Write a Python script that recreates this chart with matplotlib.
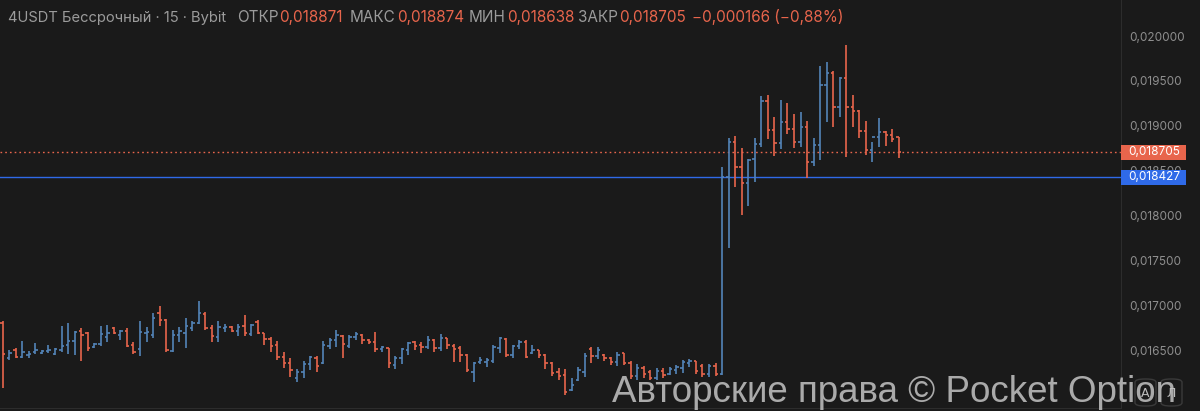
import matplotlib
matplotlib.use("Agg")
import matplotlib.pyplot as plt
import numpy as np
from matplotlib.patches import Rectangle, FancyBboxPatch
from matplotlib.transforms import blended_transform_factory
from matplotlib.ticker import FixedLocator, FuncFormatter

# ---------------- data (prices in millionths) ----------------
opens = [
    16804, 16414, 16503, 16425, 16448, 16481, 16470, 16492, 16459, 16503,
    16559, 16604, 16715, 16693, 16537, 16570, 16648, 16748, 16670, 16715,
    16559, 16514, 16693, 16670, 16915, 16837, 16492, 16670, 16693, 16748,
    16804, 16904, 16748, 16648, 16748, 16759, 16715, 16771, 16682, 16815,
    16693, 16626, 16559, 16425, 16359, 16192, 16258, 16347, 16414, 16359,
    16548, 16615, 16659, 16548, 16648, 16670, 16615, 16592, 16514, 16526,
    16336, 16414, 16503, 16592, 16559, 16537, 16615, 16526, 16637, 16548,
    16526, 16448, 16258, 16370, 16370, 16381, 16526, 16626, 16448, 16548,
    16592, 16470, 16503, 16448, 16359, 16258, 16225, 16058, 16169, 16258,
    16514, 16437, 16448, 16414, 16370, 16470, 16359, 16214, 16303, 16258,
    16192, 16269, 16236, 16281, 16303, 16359, 16381, 16325, 16236, 16325,
    16236, 18430, 18820, 18541, 18363, 18630, 18797, 19276, 18953, 18808,
    19042, 18964, 18820, 18987, 18597, 18786, 19454, 19588, 19209, 19532,
    19209, 19165, 18942, 18731, 18875, 18931, 18898, 18871,
]
highs = [
    16826, 16503, 16526, 16604, 16492, 16581, 16503, 16559, 16526, 16771,
    16804, 16715, 16748, 16704, 16581, 16771, 16782, 16759, 16726, 16748,
    16592, 16826, 16759, 16915, 16993, 16849, 16726, 16759, 16860, 16826,
    17049, 16927, 16782, 16826, 16793, 16771, 16793, 16893, 16793, 16837,
    16693, 16648, 16604, 16481, 16414, 16292, 16381, 16437, 16437, 16604,
    16637, 16726, 16670, 16670, 16704, 16682, 16626, 16704, 16548, 16526,
    16437, 16526, 16592, 16604, 16592, 16659, 16626, 16682, 16637, 16570,
    16548, 16459, 16370, 16425, 16414, 16559, 16648, 16637, 16559, 16615,
    16615, 16559, 16503, 16459, 16370, 16303, 16292, 16192, 16314, 16470,
    16537, 16537, 16459, 16425, 16481, 16470, 16381, 16347, 16325, 16281,
    16303, 16303, 16314, 16336, 16392, 16403, 16381, 16347, 16347, 16359,
    18541, 18864, 18886, 18753, 18630, 18864, 19332, 19343, 19098, 19287,
    19254, 19131, 19154, 19053, 18864, 19666, 19711, 19614, 19543, 19900,
    19343, 19176, 19053, 18820, 19087, 18942, 18964, 18874,
]
lows = [
    16080, 16392, 16414, 16414, 16414, 16459, 16459, 16470, 16448, 16481,
    16459, 16448, 16381, 16492, 16526, 16548, 16592, 16682, 16615, 16537,
    16459, 16437, 16592, 16637, 16771, 16481, 16481, 16592, 16526, 16715,
    16793, 16726, 16592, 16592, 16704, 16704, 16659, 16659, 16659, 16682,
    16559, 16481, 16392, 16303, 16203, 16147, 16192, 16281, 16258, 16347,
    16514, 16537, 16414, 16526, 16615, 16570, 16570, 16481, 16481, 16303,
    16292, 16347, 16448, 16503, 16470, 16514, 16481, 16492, 16514, 16370,
    16370, 16258, 16147, 16347, 16314, 16359, 16470, 16425, 16414, 16514,
    16414, 16459, 16414, 16292, 16214, 16169, 16002, 16047, 16158, 16203,
    16359, 16403, 16381, 16336, 16325, 16336, 16180, 16169, 16192, 16169,
    16169, 16192, 16225, 16236, 16247, 16314, 16236, 16203, 16203, 16214,
    16225, 17639, 18318, 18007, 18107, 18374, 18764, 18853, 18664, 18742,
    18909, 18753, 18764, 18419, 18552, 18619, 19042, 18987, 19098, 18653,
    18987, 18864, 18675, 18597, 18764, 18775, 18820, 18638,
]
closes = [
    16459, 16470, 16425, 16481, 16459, 16503, 16492, 16503, 16514, 16548,
    16604, 16704, 16670, 16526, 16570, 16682, 16693, 16693, 16715, 16548,
    16481, 16704, 16704, 16860, 16837, 16503, 16670, 16715, 16771, 16804,
    16915, 16748, 16659, 16759, 16759, 16715, 16759, 16693, 16782, 16693,
    16626, 16548, 16425, 16359, 16281, 16258, 16347, 16425, 16325, 16559,
    16615, 16670, 16570, 16648, 16682, 16615, 16592, 16514, 16537, 16359,
    16414, 16514, 16581, 16548, 16537, 16615, 16526, 16637, 16559, 16514,
    16448, 16281, 16359, 16392, 16392, 16537, 16637, 16448, 16548, 16592,
    16425, 16503, 16448, 16359, 16247, 16214, 16036, 16114, 16281, 16437,
    16437, 16503, 16414, 16370, 16448, 16359, 16214, 16303, 16236, 16192,
    16269, 16225, 16292, 16314, 16370, 16381, 16269, 16236, 16325, 16236,
    18430, 18820, 18541, 18363, 18619, 18797, 19276, 18953, 18808, 19042,
    18964, 18820, 18987, 18597, 18786, 19454, 19588, 19209, 19532, 19209,
    19165, 18942, 18731, 18875, 18931, 18898, 18853, 18705,
]
SCALE = 1e-6
blue_line_price = 0.018427
y_ticks = [0.0165, 0.0170, 0.0175, 0.0180, 0.0185, 0.0190, 0.0195, 0.0200]
symbol_text = "4USDT Бессрочный · 15 · Bybit"
watermark = "Авторские права © Pocket Option"

o = np.array(opens) * SCALE
h = np.array(highs) * SCALE
l = np.array(lows) * SCALE
c = np.array(closes) * SCALE
x = np.arange(len(o))

BG = "#1a1a1a"
UP = "#5384b8"
DOWN = "#e8654c"
GREY = "#9b9b9b"
W, H = 1200, 411
HFONT = "Inter"
HFS = 11

fig = plt.figure(figsize=(W / 100, H / 100), dpi=100, facecolor=BG)
ax = fig.add_axes([0, 3 / H, 1121 / W, 408 / H], facecolor=BG)

cols = np.where(c >= o, UP, DOWN)
ax.vlines(x, l, h, colors=cols, lw=1.2, zorder=3)
ax.hlines(o, x - 0.36, x, colors=cols, lw=1.2, zorder=3)
ax.hlines(c, x, x + 0.36, colors=cols, lw=1.2, zorder=3)

last_close = c[-1]
ax.axhline(last_close, color=DOWN, lw=1.0, ls=(0, (1.2, 2.2)), zorder=2)
ax.axhline(blue_line_price, color="#2f6ae8", lw=1.0, zorder=2)

ax.set_xlim(-0.41, 171.0)
ax.set_ylim(0.0158574, 0.0204009)

ax.yaxis.tick_right()
ax.yaxis.set_major_locator(FixedLocator(y_ticks))
ax.yaxis.set_major_formatter(FuncFormatter(lambda v, p: f"{v:.6f}".replace(".", ",")))
ax.tick_params(axis="y", length=0, pad=6, labelsize=8.5, labelcolor="#8e8e8e")
for lab in ax.get_yticklabels():
    lab.set_fontfamily("Inter")
ax.set_xticks([])
for s in ["top", "left"]:
    ax.spines[s].set_visible(False)
ax.spines["right"].set_color("#2c2c2c")
ax.spines["bottom"].set_color("#2c2c2c")

# price label boxes on the axis
trans = blended_transform_factory(ax.transAxes, ax.transData)
box_w = 65 / 1121
box_h = 15 * (0.0204009 - 0.0158574) / 408
for price, col in [(last_close, DOWN), (blue_line_price, "#2f6ae8")]:
    ax.add_patch(Rectangle((1.0, price - box_h / 2), box_w, box_h, transform=trans,
                           facecolor=col, edgecolor="none", clip_on=False, zorder=10))
    ax.text(1.0 + 7 / 1121, price, f"{price:.6f}".replace(".", ","), transform=trans,
            ha="left", va="center", color="white", fontsize=8.5, family="Inter",
            zorder=11, clip_on=False)

# header
r = fig.canvas.get_renderer()
chg = c[-1] - o[-1]
pct = chg / o[-1] * 100
fmt = lambda v: f"{v:.6f}".replace(".", ",")
base_y = (H - 22) / H

st = fig.text(8 / W, base_y, symbol_text, color=GREY, fontsize=HFS, family=HFONT,
              ha="left", va="baseline")
st.set_fontsize(HFS * 218 / st.get_window_extent(r).width)

def put(txt, px, col):
    t = fig.text(px / W, base_y, txt, color=col, fontsize=HFS, family=HFONT,
                 ha="left", va="baseline")
    return px + t.get_window_extent(r).width

end = 0
for lab, val, px in [("ОТКР", o[-1], 237), ("МАКС", h[-1], 350),
                     ("МИН", l[-1], 469), ("ЗАКР", c[-1], 578)]:
    e = put(lab, px, GREY)
    end = put(fmt(val), e + 1, DOWN)
put(f"−{fmt(abs(chg))} (−{abs(pct):.2f}%)".replace(".", ","), end + 6, DOWN)

# bottom-right buttons
for bx, letter in [(1135, "А"), (1161, "Л")]:
    fig.patches.append(FancyBboxPatch((bx / W, 5 / H), 21 / W, 27 / H,
                                      boxstyle="round,pad=0,rounding_size=0.008",
                                      transform=fig.transFigure, facecolor=BG,
                                      edgecolor="#3a3a3a", lw=1, zorder=5))
    fig.text((bx + 10.5) / W, 18 / H, letter, color="#bdbdbd", fontsize=9,
             ha="center", va="center", zorder=6)

# watermark scaled to reference width
wm = fig.text(612 / W, 9 / H, watermark, color="#c4c4c4", alpha=0.85,
              fontsize=30, family="Liberation Sans", ha="left", va="baseline", zorder=20)
wpx = wm.get_window_extent(r).width
wm.set_fontsize(30 * 563 / wpx)

fig.savefig("out.png", dpi=100, facecolor=BG)
